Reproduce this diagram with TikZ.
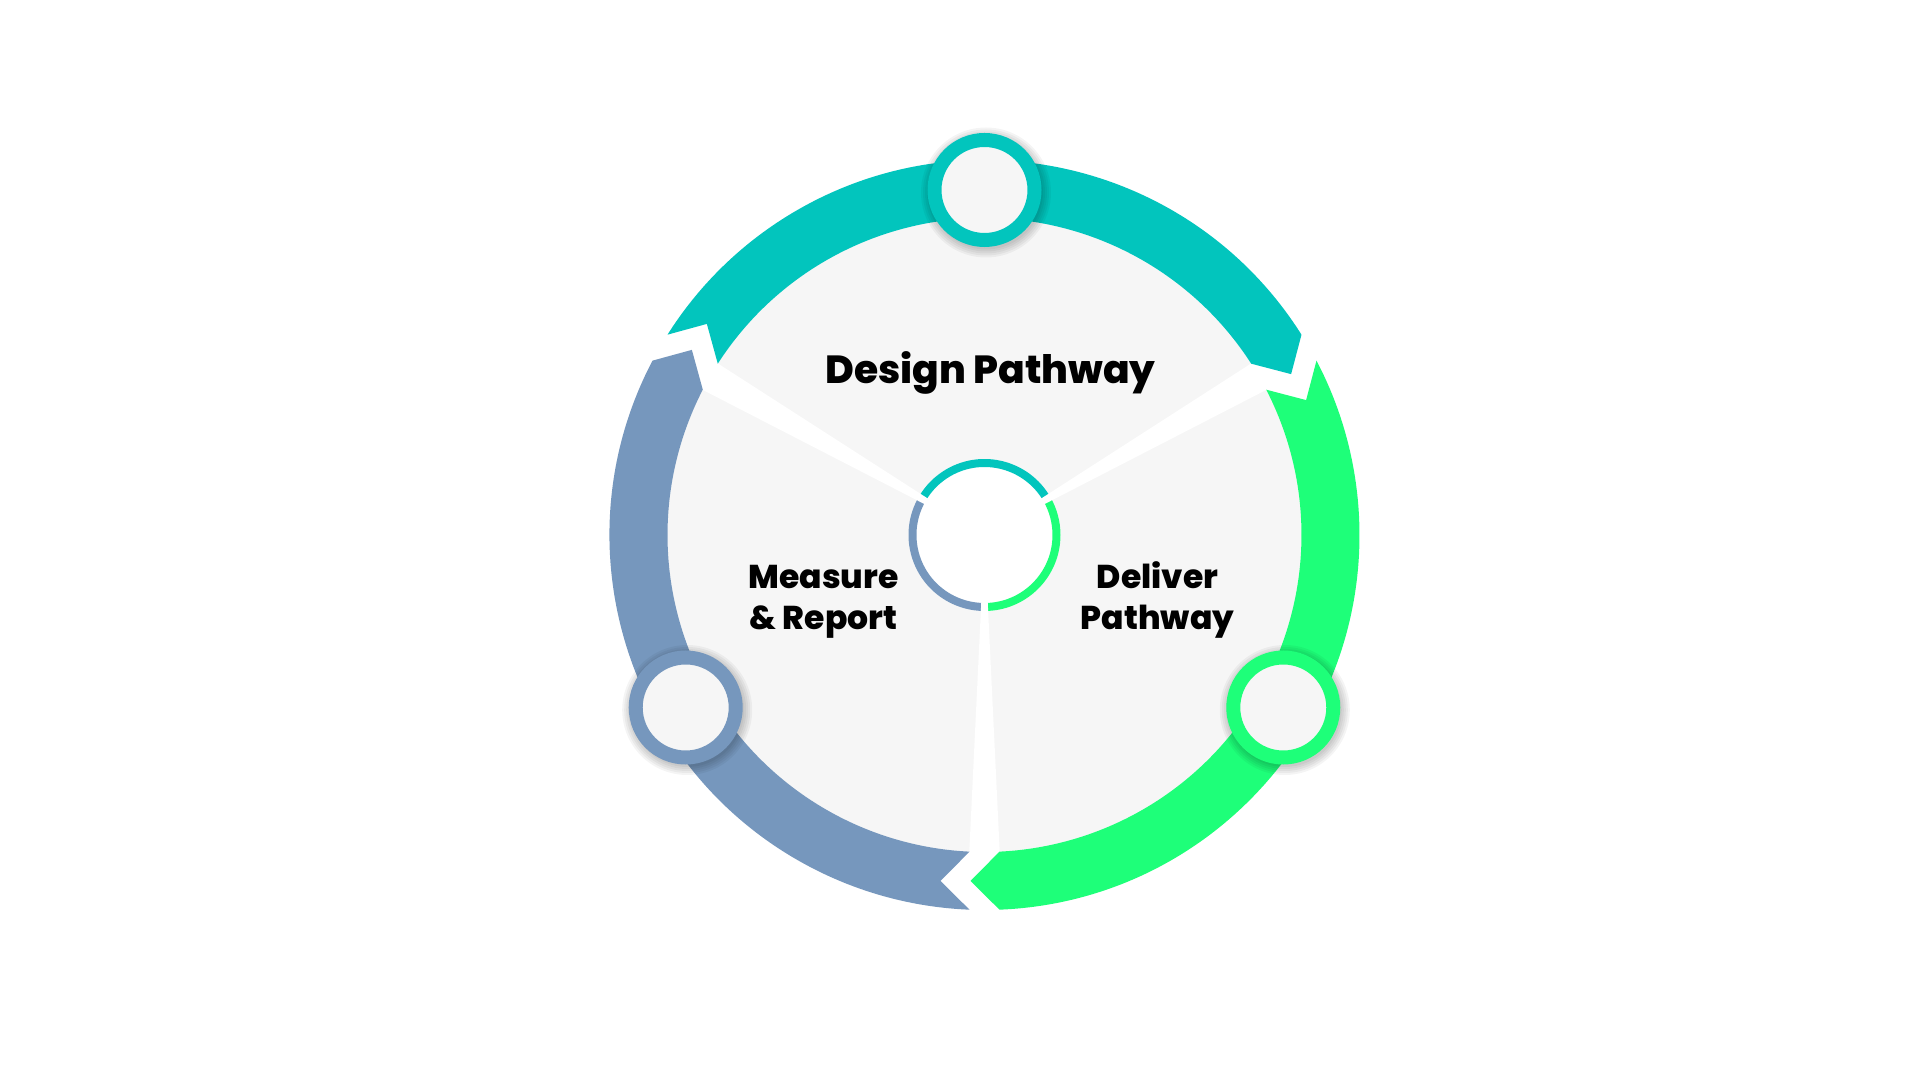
\documentclass[tikz,border=0pt]{standalone}
\usepackage{fontspec}
\setmainfont{Poppins}
\newfontfamily\xbfont{Poppins ExtraBold}
\definecolor{cteal}{RGB}{2,197,189}
\definecolor{cgreen}{RGB}{30,255,121}
\definecolor{cblue}{RGB}{118,151,189}
\definecolor{cgray}{RGB}{246,246,246}
\tikzset{
  marker/.style={circle, draw=#1, line width=7pt, fill=cgray, minimum size=50pt, inner sep=0pt, outer sep=0pt},
  lbl/.style={font=\fontsize{16.5}{20.75}\selectfont\xbfont, inner sep=0pt},
  ringline/.style={line width=4pt}
}
\newcommand\ringarrow[2]{%
  \begin{scope}[rotate=#1]
    \fill[#2] (267.683:346.28) -- (272.292:375)
      arc[start angle=272.292, end angle=387.708, radius=375]
      -- (382.753:348.79) -- (387.288:317)
      arc[start angle=387.288, end angle=272.712, radius=317] -- cycle;
  \end{scope}}
\newcommand\markshadow[1]{%
  \begin{scope}[shift={(#1:345)}, shift={(1.5,-2.5)}]
    \foreach \rr in {57,59,61,63,65} \fill[black, opacity=0.045] (0,0) circle[radius=\rr];
  \end{scope}}
\begin{document}
\begin{tikzpicture}[x=0.5pt,y=0.5pt]
\useasboundingbox[fill=white] (-984.5,-545) rectangle (935.5,535);
% grey disc
\fill[cgray] (0,0) circle[radius=317];
% centre ring
\fill[white] (0,0) circle[radius=76];
\draw[cteal, ringline] (30:72) arc[start angle=30, end angle=150, radius=72];
\draw[cblue, ringline] (150:72) arc[start angle=150, end angle=270, radius=72];
\draw[cgreen, ringline] (270:72) arc[start angle=270, end angle=390, radius=72];
% separators
\foreach \b in {30,150,270}
  \fill[white] (0,0) -- (\b-2.75:335) -- (\b+2.75:335) -- cycle;
% ring arrows
\ringarrow{0}{cgreen}
\ringarrow{120}{cteal}
\ringarrow{240}{cblue}
% markers
\markshadow{90}
\markshadow{210}
\markshadow{330}
\node[marker=cteal] (mteal) at (90:345) {};
\node[marker=cblue] (mblue) at (210:345) {};
\node[marker=cgreen] (mgreen) at (330:345) {};
% labels
\node[font=\fontsize{19.6}{24}\selectfont\xbfont, inner sep=0pt, anchor=base] (design) at (6,151.7) {Design Pathway};
\node[lbl, anchor=base] (measure) at (-161,-53.3) {\begin{tabular}[t]{@{}c@{}}Measure\\\& Report\end{tabular}};
\node[lbl, anchor=base] (deliver) at (173,-53.3) {\begin{tabular}[t]{@{}c@{}}Deliver\\Pathway\end{tabular}};
\end{tikzpicture}
\end{document}
